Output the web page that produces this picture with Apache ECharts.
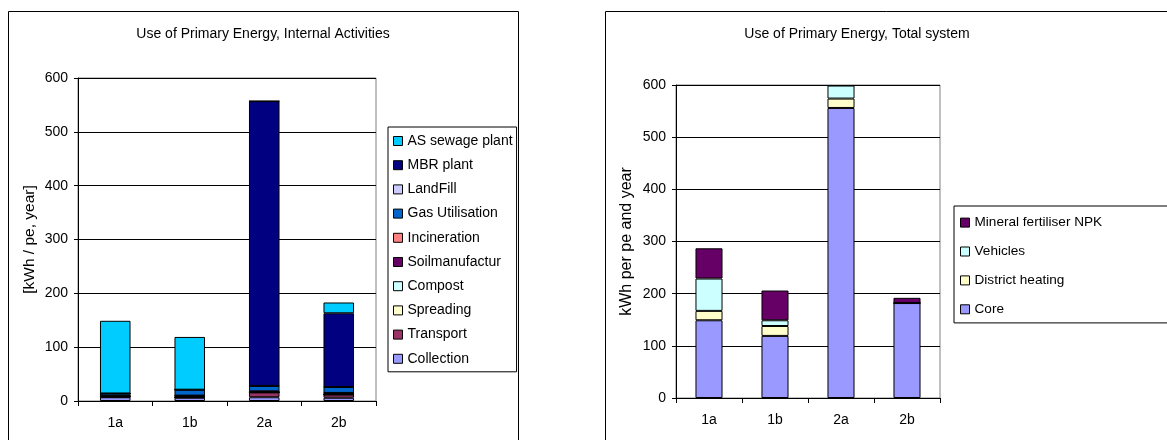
<!DOCTYPE html>
<html>
<head>
<meta charset="utf-8">
<script src="https://cdn.jsdelivr.net/npm/echarts@6/dist/echarts.min.js"></script>
<style>
html,body{margin:0;padding:0;background:#fff;}
#chart{width:1167px;height:440px;}
</style>
</head>
<body>
<div id="chart"></div>
<script>
// Categories
const categories = ['1a', '1b', '2a', '2b'];
const yTicks = [0, 100, 200, 300, 400, 500, 600];

// Left chart: Use of Primary Energy, Internal Activities
const leftTitle = 'Use of Primary Energy, Internal Activities';
const leftYName = '[kWh / pe, year]';
const collection     = [7, 6, 7, 6];
const transport      = [1, 1, 9, 6];
const spreading      = [0, 0, 0, 0];
const compost        = [0, 0, 0, 0];
const soilmanufactur = [2, 3, 2, 3];
const incineration   = [0, 0, 0, 0];
const gasUtilisation = [4, 11, 10, 11];
const landFill       = [0, 0, 0, 0];
const mbrPlant       = [0, 0, 529, 137];
const asSewagePlant  = [135, 98, 0, 20];

// Right chart: Use of Primary Energy, Total system
const rightTitle = 'Use of Primary Energy, Total system';
const rightYName = 'kWh per pe and year';
const core            = [149, 119, 556, 182];
const districtHeating = [18, 19, 18, 0];
const vehicles        = [62, 11, 25, 0];
const mineralNPK      = [58, 57, 0, 10];

const leftSeriesDef = [
  ['Collection', collection, '#9999FF'],
  ['Transport', transport, '#993366'],
  ['Spreading', spreading, '#FFFFCC'],
  ['Compost', compost, '#CCFFFF'],
  ['Soilmanufactur', soilmanufactur, '#660066'],
  ['Incineration', incineration, '#FF8080'],
  ['Gas Utilisation', gasUtilisation, '#0066CC'],
  ['LandFill', landFill, '#CCCCFF'],
  ['MBR plant', mbrPlant, '#000080'],
  ['AS sewage plant', asSewagePlant, '#00CCFF']
];
const rightSeriesDef = [
  ['Core', core, '#9999FF'],
  ['District heating', districtHeating, '#FFFFCC'],
  ['Vehicles', vehicles, '#CCFFFF'],
  ['Mineral fertiliser NPK', mineralNPK, '#660066']
];

const FONT = '"Liberation Sans", Arial, sans-serif';

function mkSeries(def, idx, stack) {
  return def.map(([name, data, color]) => ({
    name: name,
    type: 'bar',
    stack: stack,
    xAxisIndex: idx,
    yAxisIndex: idx,
    data: data,
    barWidth: '41%',
    itemStyle: { color: color, borderColor: '#000', borderWidth: 1 },
    emphasis: { disabled: true }
  }));
}

function mkX(idx) {
  return {
    type: 'category', gridIndex: idx, data: categories,
    axisLine: { lineStyle: { color: '#000', width: 1 } },
    axisTick: { show: true, length: 5, lineStyle: { color: '#000' } },
    axisLabel: { color: '#000', fontSize: 14, fontFamily: FONT, margin: 15 }
  };
}
function mkY(idx, name, gap, nameSize) {
  return {
    type: 'value', gridIndex: idx, min: yTicks[0], max: yTicks[yTicks.length - 1], interval: 100,
    name: name, nameLocation: 'middle', nameGap: gap,
    nameTextStyle: { color: '#000', fontSize: nameSize, fontFamily: FONT },
    axisLine: { show: true, lineStyle: { color: '#000', width: 1 } },
    axisTick: { show: true, length: 4, lineStyle: { color: '#000' } },
    axisLabel: { color: '#000', fontSize: 14, fontFamily: FONT, margin: 10 },
    splitLine: { show: true, lineStyle: { color: '#000', width: 1 } }
  };
}

const chart = echarts.init(document.getElementById('chart'), null, { renderer: 'canvas' });
chart.setOption({
  animation: false,
  backgroundColor: '#fff',
  graphic: [
    { type: 'rect', shape: { x: 8.5, y: 11.5, width: 510, height: 460 }, style: { fill: 'none', stroke: '#000', lineWidth: 1 }, z: 0 },
    { type: 'rect', shape: { x: 605.5, y: 11.5, width: 620, height: 460 }, style: { fill: 'none', stroke: '#000', lineWidth: 1 }, z: 0 },
    { type: 'text', x: 263, y: 34, style: { text: leftTitle, textAlign: 'center', textVerticalAlign: 'middle', fontSize: 14, fontFamily: FONT, fill: '#000' } },
    { type: 'text', x: 857, y: 34, style: { text: rightTitle, textAlign: 'center', textVerticalAlign: 'middle', fontSize: 14, fontFamily: FONT, fill: '#000' } }
  ],
  grid: [
    { left: 78, top: 78, width: 298, height: 323, show: true, borderColor: '#808080', borderWidth: 1, containLabel: false },
    { left: 676, top: 85, width: 264, height: 313, show: true, borderColor: '#808080', borderWidth: 1, containLabel: false }
  ],
  xAxis: [mkX(0), mkX(1)],
  yAxis: [mkY(0, leftYName, 40, 15.5), mkY(1, rightYName, 41, 16)],
  legend: [
    {
      data: leftSeriesDef.map(d => d[0]).reverse(),
      orient: 'vertical', left: 388, top: 127,
      padding: [6, 4, 5, 5],
      itemWidth: 9, itemHeight: 9, itemGap: 8.2,
      icon: 'rect',
      itemStyle: { borderColor: '#000', borderWidth: 1 },
      textStyle: { color: '#000', fontSize: 14, fontFamily: FONT, lineHeight: 16 },
      borderColor: '#000', borderWidth: 1,
      selectedMode: false
    },
    {
      data: rightSeriesDef.map(d => d[0]).reverse(),
      orient: 'vertical', left: 954, top: 206,
      padding: [9, 80, 6, 6],
      itemWidth: 9, itemHeight: 9, itemGap: 13.7,
      icon: 'rect',
      itemStyle: { borderColor: '#000', borderWidth: 1 },
      textStyle: { color: '#000', fontSize: 13.6, fontFamily: FONT, lineHeight: 15.2 },
      borderColor: '#000', borderWidth: 1,
      selectedMode: false
    }
  ],
  series: mkSeries(leftSeriesDef, 0, 'L').concat(mkSeries(rightSeriesDef, 1, 'R'))
});
</script>
</body>
</html>
